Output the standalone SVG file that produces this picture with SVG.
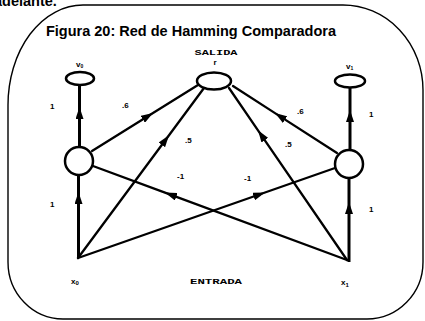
<svg xmlns="http://www.w3.org/2000/svg" width="425" height="321" viewBox="0 0 425 321">
<style>
.frame{fill:none;stroke:#000;stroke-width:1.4}
.edge{fill:none;stroke:#000;stroke-width:2.3;stroke-linecap:round}
.stem{fill:none;stroke:#000;stroke-width:3}
.node{fill:#fff;stroke:#000;stroke-width:2.5}
.lbl{font-family:"Liberation Sans",Arial,sans-serif;font-weight:bold;font-size:8px;fill:#000}
.mono{font-family:"Liberation Mono","Courier New",monospace;font-weight:bold;font-size:8px;fill:#000}
.title{font-family:"Liberation Sans",Arial,sans-serif;font-weight:bold;font-size:14.5px;fill:#000}
</style>
<defs>
<marker id="ah" markerUnits="userSpaceOnUse" markerWidth="12" markerHeight="8" refX="12" refY="4" orient="auto">
<path d="M0,0 L12,4 L0,8 z" fill="#000"/>
</marker>
</defs>
<rect width="425" height="321" fill="#fff"/>
<text class="title" x="-6" y="6" font-size="11px">adelante.</text>
<path class="frame" d="M83 5 L343 5 A80 85 0 0 1 423 90 L423 262 A56 57 0 0 1 367 319 L63 319 A55 57 0 0 1 8 262 L8 105 A75 100 0 0 1 83 5 Z"/>
<text class="title" x="191" y="36" text-anchor="middle">Figura 20: Red de Hamming Comparadora</text>
<text class="mono" x="216" y="55" text-anchor="middle" textLength="43" lengthAdjust="spacingAndGlyphs">SALIDA</text>
<text class="mono" x="216" y="284" text-anchor="middle" textLength="52" lengthAdjust="spacingAndGlyphs">ENTRADA</text>
<g id="connectors">
<path class="stem" marker-mid="url(#ah)" d="M78.5 258 L78.5 192 L78.5 175"/>
<path class="stem" marker-mid="url(#ah)" d="M79.5 147 L79.5 107 L79.5 85"/>
<path class="stem" marker-mid="url(#ah)" d="M349 262 L349 202 L349 178"/>
<path class="stem" marker-mid="url(#ah)" d="M350 150 L350 110 L350 88"/>
<path class="edge" marker-mid="url(#ah)" d="M92 151 L153 113 L198 85"/>
<path class="edge" marker-mid="url(#ah)" d="M78 258 L169 135.2 L204 88"/>
<path class="edge" marker-mid="url(#ah)" d="M347 260 L258 130.3 L229 88"/>
<path class="edge" marker-mid="url(#ah)" d="M337 153 L275 113.1 L233 86"/>
<path class="edge" marker-mid="url(#ah)" d="M347 260 L165 192.6 L93 166"/>
<path class="edge" marker-mid="url(#ah)" d="M78 258 L265 192.5 L335 168"/>
</g>
<g id="v0"><ellipse class="node" cx="80" cy="78.5" rx="14" ry="6.5" stroke-width="3"/><text class="lbl" x="76" y="67" font-size="7px">v<tspan font-size="5px" dy="1">0</tspan></text></g>
<g id="v1"><ellipse class="node" cx="350" cy="81" rx="15" ry="6.5" stroke-width="3"/><text class="lbl" x="346" y="69" font-size="7px">v<tspan font-size="5px" dy="1">1</tspan></text></g>
<g id="r"><ellipse class="node" cx="214" cy="81" rx="17" ry="8.5" stroke-width="2"/><text class="lbl" x="215" y="65" text-anchor="middle" font-size="5px">r</text></g>
<g id="h0"><circle class="node" cx="79" cy="161" r="14"/></g>
<g id="h1"><circle class="node" cx="349" cy="164" r="14"/></g>
<g id="x0"><text class="lbl" x="71" y="284" font-size="7px">x<tspan font-size="6px" dy="1">0</tspan></text></g>
<g id="x1"><text class="lbl" x="341" y="285" font-size="7px">x<tspan font-size="6px" dy="2">1</tspan></text></g>
<g id="labels">
<text class="lbl" x="50" y="109">1</text>
<text class="lbl" x="50" y="207">1</text>
<text class="lbl" x="122" y="108">.6</text>
<text class="lbl" x="185" y="143">.5</text>
<text class="lbl" x="177" y="179">-1</text>
<text class="lbl" x="244" y="181">-1</text>
<text class="lbl" x="285" y="147">.5</text>
<text class="lbl" x="297" y="114">.6</text>
<text class="lbl" x="369" y="117">1</text>
<text class="lbl" x="369" y="212">1</text>
</g>
</svg>
